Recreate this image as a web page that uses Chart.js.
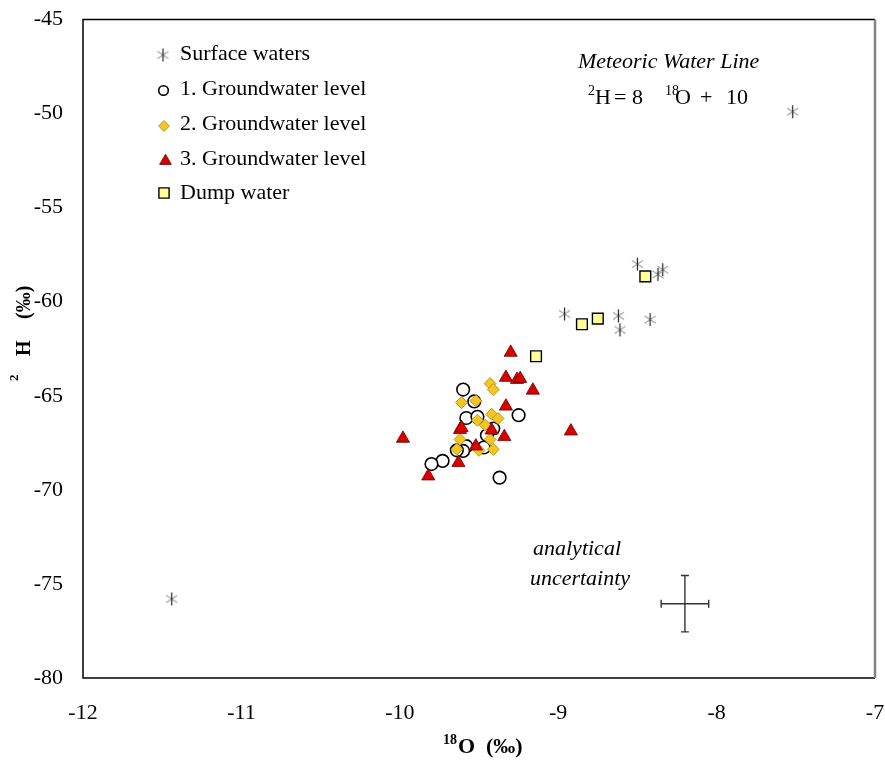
<!DOCTYPE html>
<html><head><meta charset="utf-8">
<script src="https://cdn.jsdelivr.net/npm/chart.js@4.4.0/dist/chart.umd.min.js"></script>
<style>html,body{margin:0;padding:0;background:#fff;}canvas{display:block;}</style>
</head><body>
<canvas id="c" width="885" height="760"></canvas>
<script>
// ---- data (δ18O, δ2H in ‰) ----
const seriesNames = ['Surface waters','1. Groundwater level','2. Groundwater level','3. Groundwater level','Dump water'];
const surfaceO = [-7.52,-11.44,-8.50,-8.34,-8.37,-8.96,-8.62,-8.61,-8.42];
const surfaceH = [-49.9,-75.8,-58.0,-58.3,-58.55,-60.65,-60.75,-61.5,-60.95];
const gw1O = [-9.60,-9.53,-9.58,-9.51,-9.25,-9.41,-9.45,-9.58,-9.60,-9.64,-9.47,-9.73,-9.80,-9.37];
const gw1H = [-64.67,-65.3,-66.18,-66.12,-66.03,-66.74,-67.1,-67.68,-67.93,-67.9,-67.75,-68.46,-68.63,-69.35];
const gw2O = [-9.43,-9.41,-9.61,-9.52,-9.42,-9.38,-9.51,-9.46,-9.43,-9.62,-9.64,-9.50,-9.41];
const gw2H = [-64.35,-64.67,-65.36,-65.27,-65.98,-66.21,-66.3,-66.56,-67.32,-67.32,-67.84,-67.9,-67.85];
const gw3O = [-9.30,-9.33,-9.26,-9.24,-9.16,-9.33,-8.92,-9.98,-9.62,-9.61,-9.42,-9.34,-9.52,-9.63,-9.82];
const gw3H = [-62.7,-64.03,-64.14,-64.09,-64.71,-65.56,-66.88,-67.27,-66.8,-66.7,-66.83,-67.18,-67.68,-68.56,-69.27];
const dumpO = [-8.45,-8.85,-8.75,-9.14];
const dumpH = [-58.65,-61.2,-60.9,-62.9];
const xTicks = [-12,-11,-10,-9,-8,-7];
const yTicks = [-80,-75,-70,-65,-60,-55,-50,-45];
const errCenter = [-8.2,-76.05];
const errHalf = [0.15,1.5];

const pts = (xs, ys) => xs.map((x,i)=>({x, y: ys[i]}));

// asterisk marker
function makeAsterisk(sz){
  const c = document.createElement('canvas');
  c.width = sz; c.height = sz;
  const g = c.getContext('2d');
  const m = sz/2;
  g.lineWidth = 1.1;
  g.strokeStyle = '#8a8a8a';
  g.beginPath();
  g.moveTo(m-5.5, m-3.6); g.lineTo(m+5.5, m+3.6);
  g.moveTo(m-5.5, m+3.6); g.lineTo(m+5.5, m-3.6);
  g.stroke();
  g.strokeStyle = '#222';
  g.lineWidth = 1.2;
  g.beginPath();
  g.moveTo(m, m-6.5); g.lineTo(m, m+6.5);
  g.stroke();
  return c;
}
const ast = makeAsterisk(15);

const SERIF = '"Liberation Serif","Times New Roman",serif';

const styles = [
  {pointStyle: ast, radius: 7, bg:'rgba(0,0,0,0)', bc:'rgba(0,0,0,0)', bw:0, lr:7},
  {pointStyle: 'circle', radius: 6.3, bg:'#ffffff', bc:'#000000', bw:1.6, lr:4.8},
  {pointStyle: 'rectRot', radius: 6, bg:'#F3C623', bc:'#A8880F', bw:0.8, lr:5.4},
  {pointStyle: 'triangle', radius: 7.6, bg:'#D90000', bc:'#6a0000', bw:0.8, lr:6.8},
  {pointStyle: 'rect', radius: 7.6, bg:'#FFFF99', bc:'#000000', bw:1.4, lr:7.2}
];
const dataSets = [pts(surfaceO,surfaceH), pts(gw1O,gw1H), pts(gw2O,gw2H), pts(gw3O,gw3H), pts(dumpO,dumpH)];

const datasets = dataSets.map((d,i)=>({
  label: seriesNames[i],
  data: d,
  pointStyle: styles[i].pointStyle,
  pointRadius: styles[i].radius,
  pointHoverRadius: styles[i].radius,
  backgroundColor: styles[i].bg,
  borderColor: styles[i].bc,
  borderWidth: styles[i].bw,
  order: 5 - i
}));

function runs(ctx, x, y, parts){
  let cx = x;
  for (const p of parts){
    ctx.font = p.font;
    if (p.x !== undefined) cx = p.x;
    ctx.fillText(p.t, cx, y + (p.dy||0));
    cx += ctx.measureText(p.t).width;
  }
}

const decor = {
  id: 'decor',
  afterDatasetsDraw(chart){
    const ctx = chart.ctx;
    const a = chart.chartArea;
    const xs = chart.scales.x, ys = chart.scales.y;
    ctx.save();
    // frame
    ctx.strokeStyle = '#000'; ctx.lineWidth = 1.5;
    ctx.beginPath();
    ctx.moveTo(a.right, a.top); ctx.lineTo(a.left, a.top); ctx.lineTo(a.left, a.bottom); ctx.lineTo(a.right, a.bottom);
    ctx.stroke();
    ctx.strokeStyle = '#858585'; ctx.lineWidth = 2.5;
    ctx.beginPath(); ctx.moveTo(a.right, a.top); ctx.lineTo(a.right, a.bottom); ctx.stroke();

    // error bar (analytical uncertainty)
    const cx = xs.getPixelForValue(errCenter[0]);
    const cy = ys.getPixelForValue(errCenter[1]);
    const xl = xs.getPixelForValue(errCenter[0]-errHalf[0]);
    const xr = xs.getPixelForValue(errCenter[0]+errHalf[0]);
    const yt = ys.getPixelForValue(errCenter[1]+errHalf[1]);
    const yb = ys.getPixelForValue(errCenter[1]-errHalf[1]);
    ctx.strokeStyle = '#333'; ctx.lineWidth = 1.4;
    ctx.beginPath();
    ctx.moveTo(xl, cy); ctx.lineTo(xr, cy);
    ctx.moveTo(cx, yt); ctx.lineTo(cx, yb);
    ctx.moveTo(xl, cy-4); ctx.lineTo(xl, cy+4);
    ctx.moveTo(xr, cy-4); ctx.lineTo(xr, cy+4);
    ctx.moveTo(cx-4, yt); ctx.lineTo(cx+4, yt);
    ctx.moveTo(cx-4, yb); ctx.lineTo(cx+4, yb);
    ctx.stroke();

    ctx.fillStyle = '#000';
    ctx.textBaseline = 'alphabetic';
    ctx.textAlign = 'left';
    // legend
    const legY = [55, 90.5, 126, 161, 193];
    const legX = [163, 163.5, 164, 165.5, 164];
    const baseY = [60, 95, 130, 165, 199];
    for (let i=0;i<5;i++){
      const s = styles[i];
      ctx.save();
      ctx.fillStyle = s.bg; ctx.strokeStyle = s.bc; ctx.lineWidth = s.bw;
      Chart.helpers.drawPoint(ctx, {pointStyle: s.pointStyle, radius: s.lr, rotation: 0, borderWidth: s.bw}, legX[i], legY[i]);
      ctx.restore();
      ctx.font = '22px ' + SERIF;
      ctx.fillText(seriesNames[i], 180, baseY[i]);
    }
    // Meteoric water line text
    ctx.font = 'italic 22px ' + SERIF;
    ctx.fillText('Meteoric Water Line', 578, 68);
    runs(ctx, 589, 104, [
      {t:'2', font:'14px '+SERIF, dy:-9, x:588},
      {t:'H', font:'22px '+SERIF, x:595},
      {t:'=', font:'22px '+SERIF, x:614},
      {t:'8', font:'22px '+SERIF, x:632},
      {t:'18', font:'14px '+SERIF, dy:-9, x:665},
      {t:'O', font:'22px '+SERIF, x:675},
      {t:'+', font:'22px '+SERIF, x:700},
      {t:'10', font:'22px '+SERIF, x:726}
    ]);
    // analytical uncertainty
    ctx.textAlign = 'center';
    ctx.font = 'italic 22px ' + SERIF;
    ctx.fillText('analytical', 577, 555);
    ctx.fillText('uncertainty', 580, 585);
    ctx.textAlign = 'left';
    // x axis title
    runs(ctx, 443, 753, [
      {t:'18', font:'bold 14px '+SERIF, dy:-9, x:443},
      {t:'O', font:'bold 22px '+SERIF, x:458},
      {t:'(‰)', font:'bold 22px '+SERIF, x:486}
    ]);
    // y axis title (rotated)
    ctx.translate(30, 0);
    ctx.rotate(-Math.PI/2);
    ctx.font = 'bold 13px ' + SERIF;
    ctx.fillText('2', -381, -12);
    ctx.font = 'bold 20px ' + SERIF;
    ctx.fillText('H', -356, 0);
    ctx.fillText('(‰)', -319, 0);
    ctx.restore();
  }
};

new Chart(document.getElementById('c'), {
  type: 'scatter',
  data: { datasets },
  options: {
    responsive: false,
    animation: false,
    devicePixelRatio: 1,
    layout: { padding: { top: 19.5, right: 10, left: 0, bottom: 0 } },
    plugins: { legend: { display: false }, tooltip: { enabled: false } },
    scales: {
      x: {
        type: 'linear', min: -12, max: -7,
        afterBuildTicks: s => { s.ticks = xTicks.map(v => ({value: v})); },
        afterFit: s => { s.height = 82; s.paddingLeft = 0; s.paddingRight = 0; },
        grid: { display: false, drawTicks: false },
        border: { display: false },
        ticks: { color: '#000', font: { family: SERIF, size: 22 }, padding: 22, maxRotation: 0 }
      },
      y: {
        type: 'linear', min: -80, max: -45,
        afterBuildTicks: s => { s.ticks = yTicks.map(v => ({value: v})); },
        afterFit: s => { s.width = 83; s.paddingTop = 0; s.paddingBottom = 0; },
        grid: { display: false, drawTicks: false },
        border: { display: false },
        ticks: { color: '#000', font: { family: SERIF, size: 22 }, padding: 20 }
      }
    }
  },
  plugins: [decor]
});
</script>
</body></html>
